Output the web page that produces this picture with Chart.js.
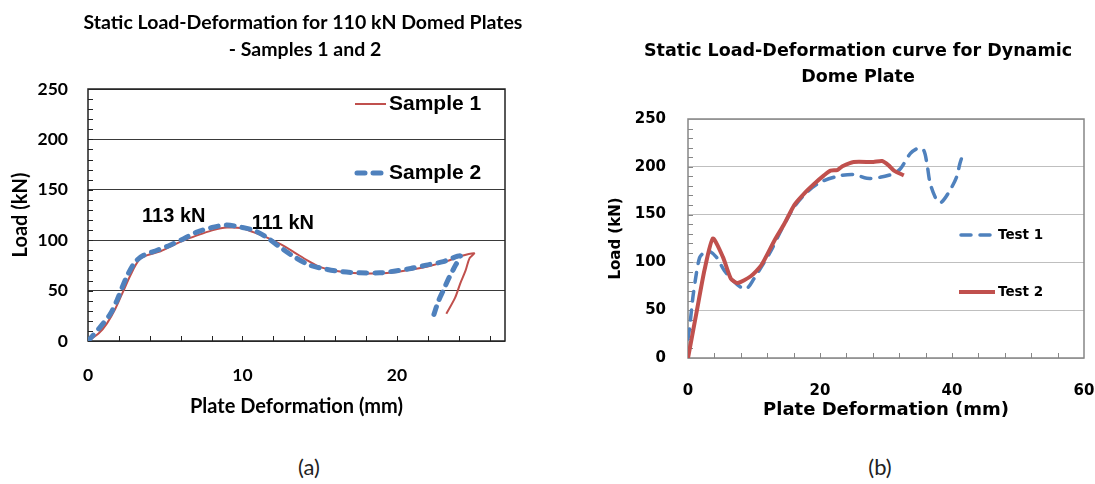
<!DOCTYPE html>
<html>
<head>
<meta charset="utf-8">
<title>Static Load-Deformation</title>
<script src="https://cdn.jsdelivr.net/npm/chart.js@4.4.1/dist/chart.umd.min.js"></script>
<style>
  html, body { margin: 0; padding: 0; background: #fff; }
  #page { position: relative; width: 1095px; height: 484px; overflow: hidden; }
  #wrapA { position: absolute; left: 0; top: 0; width: 547px; height: 440px; }
  #wrapB { position: absolute; left: 547px; top: 0; width: 548px; height: 440px; }
  .cap { position: absolute; top: 454px; width: 60px; margin-left: -30px; text-align: center;
         font: 22px Lato, sans-serif; line-height: 26px; color: #222; }
</style>
</head>
<body>
<div id="page">
  <div id="wrapA"><canvas id="chartA" width="547" height="440"></canvas></div>
  <div id="wrapB"><canvas id="chartB" width="548" height="440"></canvas></div>
  <div class="cap" style="left:309px">(a)</div>
  <div class="cap" style="left:880px">(b)</div>
</div>
<script>
// (a) 110 kN domed plates, samples 1 and 2 (deformation mm, load kN)
const sample1X = [0, 0.7, 1.23, 1.77, 2.3, 2.74, 3.28, 3.8, 4.7, 5.5, 6.4, 7.3, 8.1, 9.0, 9.9, 10.7, 11.6, 12.4, 13.3, 14.2, 15.0, 16.1, 17.2, 18.9, 20.0, 21.0, 22.0, 23.2, 24.1, 25.0, 24.7, 24.45, 24.1, 23.77, 23.2];
const sample1Y = [0, 7.6, 17.5, 32, 50, 65, 80, 85, 89, 95, 101, 106, 110, 112.5, 112, 108, 102.5, 96.5, 88.5, 80, 73.5, 69.5, 67.5, 67, 68.5, 71, 74, 79, 84, 87, 82, 70, 57, 43, 27];
const sample2X = [0, 0.8, 1.45, 1.88, 2.5, 3.06, 3.6, 4.47, 5.3, 6.2, 7.05, 8.13, 9.0, 9.86, 10.7, 11.6, 12.4, 13.3, 14.4, 15.5, 16.5, 17.6, 18.9, 19.9, 20.9, 21.9, 23.0, 24.1, 23.8, 23.4, 23.0, 22.7, 22.4];
const sample2Y = [0, 14, 27, 40.5, 63.5, 78.5, 85, 90, 95, 101.5, 108, 113, 115, 113, 110, 102.5, 93.5, 84, 75, 71, 68.6, 67.6, 67.6, 69.5, 72, 75.3, 78.7, 84.5, 75.3, 63.5, 50, 40, 26.4];
const aXLabels = [0, 10, 20];
const aYLabels = [0, 50, 100, 150, 200, 250];
const peakNotes = [{ text: '113 kN', x: 3.5, y: 124 }, { text: '111 kN', x: 10.6, y: 117 }];

// (b) dynamic dome plate, tests 1 and 2
const test1X = [0, 0.25, 0.75, 1.26, 1.76, 2.2, 3.0, 4.3, 5.5, 6.8, 8.0, 8.9, 10.0, 11.1, 12.6, 14.1, 16.1, 18.1, 20.1, 22.6, 25.1, 27.1, 29.1, 31.2, 32.2, 33.7, 34.9, 35.7, 36.2, 36.7, 37.7, 38.4, 39.7, 40.7, 41.2, 41.7];
const test1Y = [20, 32, 64, 88, 105, 109, 112.5, 105.5, 91.5, 81, 74, 72.5, 83, 95, 112.5, 133.5, 158, 174, 184, 190, 192, 188, 189, 193, 198, 214, 219.5, 217.5, 203.5, 182.5, 165, 163, 175.5, 189.5, 203.5, 214];
const test2X = [0, 1.3, 2.5, 3.77, 5.3, 6.5, 7.5, 9.5, 11.1, 13.1, 14.6, 16.1, 17.6, 19.1, 20.6, 21.6, 22.6, 23.4, 25.1, 28.1, 29.4, 30.4, 31.2, 32.7];
const test2Y = [0, 48, 92, 125, 105.5, 83, 78.5, 85.5, 97, 123, 140.5, 160, 172, 182, 191, 196, 196.5, 200.5, 205, 205, 206, 201.5, 196, 191];
const bXLabels = [0, 20, 40, 60];
const bYLabels = [0, 50, 100, 150, 200, 250];

const toPoints = (xs, ys) => xs.map((x, i) => ({ x: x, y: ys[i] }));

// every minor step gets a tick, labelled values always included
function makeTicks(step, labels) {
  return scale => {
    const vals = [];
    for (let v = scale.min; v <= scale.max + 1e-9; v += step) vals.push(Math.round(v * 1000) / 1000);
    labels.forEach(v => { if (!vals.includes(v)) vals.push(v); });
    scale.ticks = vals.sort((a, b) => a - b).map(v => ({ value: v }));
  };
}
function fixSize(prop, size) {
  return scale => {
    scale[prop] = size;
    scale.paddingLeft = 0; scale.paddingRight = 0; scale.paddingTop = 0; scale.paddingBottom = 0;
  };
}

// frame, inward tick marks, titles, legend and notes
const decor = {
  id: 'decor',
  beforeDatasetsDraw(chart, args, o) {
    const { ctx, chartArea: a, scales } = chart;
    ctx.save();
    ctx.strokeStyle = o.tickColor;
    ctx.lineWidth = 1;
    ctx.beginPath();
    scales.x.ticks.forEach(t => {
      const px = Math.round(scales.x.getPixelForValue(t.value)) + 0.5;
      if (px < a.left + 2 || px > a.right - 2) return;
      ctx.moveTo(px, a.bottom);
      ctx.lineTo(px, a.bottom - o.tickLen);
    });
    scales.y.ticks.forEach(t => {
      const py = Math.round(scales.y.getPixelForValue(t.value)) + 0.5;
      if (py < a.top + 2 || py > a.bottom - 2) return;
      ctx.moveTo(a.left, py);
      ctx.lineTo(a.left + o.tickLen, py);
    });
    ctx.stroke();
    ctx.strokeStyle = o.frameColor;
    ctx.lineWidth = o.frameWidth;
    ctx.strokeRect(a.left, a.top, a.right - a.left, a.bottom - a.top);
    ctx.restore();
  },
  afterDatasetsDraw(chart, args, o) {
    const { ctx, scales } = chart;
    ctx.save();
    ctx.fillStyle = '#000';
    ctx.textBaseline = 'middle';
    ctx.textAlign = 'center';
    ctx.font = o.titleFont;
    o.titles.forEach(t => ctx.fillText(t.text, t.x, t.y));

    ctx.textAlign = 'left';
    ctx.font = o.noteFont;
    (o.notes || []).forEach(n => {
      ctx.fillText(n.text, scales.x.getPixelForValue(n.x), scales.y.getPixelForValue(n.y));
    });

    ctx.font = o.legendFont;
    o.items.forEach(it => {
      const ds = chart.data.datasets[it.ds];
      ctx.save();
      ctx.strokeStyle = ds.borderColor;
      ctx.lineWidth = ds.borderWidth;
      ctx.lineCap = ds.borderDash ? 'round' : 'butt';
      ctx.setLineDash(ds.borderDash || []);
      ctx.beginPath();
      ctx.moveTo(it.x1, it.y);
      ctx.lineTo(it.x2, it.y);
      ctx.stroke();
      ctx.restore();
      ctx.fillText(ds.label, it.tx, it.y);
    });
    ctx.restore();
  }
};

const leftFont = 'Lato, sans-serif';
const rightFont = '"DejaVu Sans", sans-serif';

new Chart(document.getElementById('chartA'), {
  type: 'scatter',
  data: {
    datasets: [
      { label: 'Sample 1', data: toPoints(sample1X, sample1Y), showLine: true, borderColor: '#C0504D',
        borderWidth: 2, tension: 0.3, pointRadius: 0, order: 1 },
      { label: 'Sample 2', data: toPoints(sample2X, sample2Y), showLine: true, borderColor: '#4F81BD',
        borderWidth: 5, borderDash: [8, 8], borderCapStyle: 'round', tension: 0.3, pointRadius: 0, order: 0 }
    ]
  },
  options: {
    responsive: false,
    animation: false,
    devicePixelRatio: 1,
    layout: { padding: { left: 0, right: 42, top: 89, bottom: 0 } },
    plugins: {
      legend: { display: false },
      tooltip: { enabled: false },
      decor: {
        tickColor: '#222', tickLen: 5, frameColor: '#222', frameWidth: 1.5,
        titleFont: 'bold 19.5px ' + leftFont,
        titles: [
          { text: 'Static Load-Deformation for 110 kN Domed Plates', x: 303, y: 23 },
          { text: '- Samples 1 and 2', x: 305, y: 50 }
        ],
        noteFont: 'bold 20px "Liberation Sans", Arial, sans-serif',
        notes: peakNotes,
        legendFont: 'bold 21px "Liberation Sans", Arial, sans-serif',
        items: [
          { ds: 0, x1: 355, x2: 386, tx: 389, y: 104 },
          { ds: 1, x1: 357, x2: 384, tx: 389, y: 173 }
        ]
      }
    },
    scales: {
      x: {
        type: 'linear', min: 0, max: 27,
        afterBuildTicks: makeTicks(2, aXLabels),
        afterFit: fixSize('height', 99),
        grid: { display: false },
        border: { display: false },
        ticks: { autoSkip: false, maxRotation: 0, padding: 16, color: '#000',
                 font: { family: leftFont, size: 17.5, weight: 'bold' },
                 callback: v => aXLabels.includes(v) ? v : '' },
        title: { display: true, text: 'Plate Deformation (mm)', color: '#000',
                 font: { family: leftFont, size: 20, weight: 'bold' }, padding: { top: 0, bottom: 21 } }
      },
      y: {
        type: 'linear', min: 0, max: 250,
        afterBuildTicks: makeTicks(10, aYLabels),
        afterFit: fixSize('width', 88),
        grid: { drawTicks: false, lineWidth: 1,
                color: c => aYLabels.includes(c.tick.value) ? '#3a3a3a' : 'rgba(0,0,0,0)' },
        border: { display: false },
        ticks: { autoSkip: false, padding: 20, color: '#000',
                 font: { family: leftFont, size: 17.5, weight: 'bold' },
                 callback: v => aYLabels.includes(v) ? v : '' },
        title: { display: true, text: 'Load (kN)', color: '#000',
                 font: { family: leftFont, size: 20, weight: 'bold' }, padding: { top: 9, bottom: 0 } }
      }
    }
  },
  plugins: [decor]
});

new Chart(document.getElementById('chartB'), {
  type: 'scatter',
  data: {
    datasets: [
      { label: 'Test 1', data: toPoints(test1X, test1Y), showLine: true, borderColor: '#4F81BD',
        borderWidth: 3.5, borderDash: [10, 9], borderCapStyle: 'round', tension: 0.3, pointRadius: 0, order: 1 },
      { label: 'Test 2', data: toPoints(test2X, test2Y), showLine: true, borderColor: '#C0504D',
        borderWidth: 4, tension: 0.2, pointRadius: 0, order: 0 }
    ]
  },
  options: {
    responsive: false,
    animation: false,
    devicePixelRatio: 1,
    layout: { padding: { left: 0, right: 11, top: 119, bottom: 0 } },
    plugins: {
      legend: { display: false },
      tooltip: { enabled: false },
      decor: {
        tickColor: '#868686', tickLen: 5, frameColor: '#868686', frameWidth: 1.5,
        titleFont: 'bold 17.5px ' + rightFont,
        titles: [
          { text: 'Static Load-Deformation curve for Dynamic', x: 311, y: 51 },
          { text: 'Dome Plate', x: 311, y: 77 }
        ],
        legendFont: 'bold 13.5px ' + rightFont,
        items: [
          { ds: 0, x1: 414, x2: 446, tx: 451, y: 235 },
          { ds: 1, x1: 412, x2: 448, tx: 451, y: 292 }
        ]
      }
    },
    scales: {
      x: {
        type: 'linear', min: 0, max: 60,
        afterBuildTicks: makeTicks(4, bXLabels),
        afterFit: fixSize('height', 82),
        grid: { display: false },
        border: { display: false },
        ticks: { autoSkip: false, maxRotation: 0, padding: 16, color: '#000',
                 font: { family: rightFont, size: 15, weight: 'bold' },
                 callback: v => bXLabels.includes(v) ? v : '' },
        title: { display: true, text: 'Plate Deformation (mm)', color: '#000',
                 font: { family: rightFont, size: 18, weight: 'bold' }, padding: { top: 0, bottom: 19 } }
      },
      y: {
        type: 'linear', min: 0, max: 250,
        afterBuildTicks: makeTicks(10, bYLabels),
        afterFit: fixSize('width', 141),
        grid: { drawTicks: false, lineWidth: 1,
                color: c => bYLabels.includes(c.tick.value) ? '#bfbfbf' : 'rgba(0,0,0,0)' },
        border: { display: false },
        ticks: { autoSkip: false, padding: 22, color: '#000',
                 font: { family: rightFont, size: 15, weight: 'bold' },
                 callback: v => bYLabels.includes(v) ? v : '' },
        title: { display: true, text: 'Load (kN)', color: '#000',
                 font: { family: rightFont, size: 15, weight: 'bold' }, padding: { top: 60, bottom: 0 } }
      }
    }
  },
  plugins: [decor]
});
</script>
</body>
</html>
